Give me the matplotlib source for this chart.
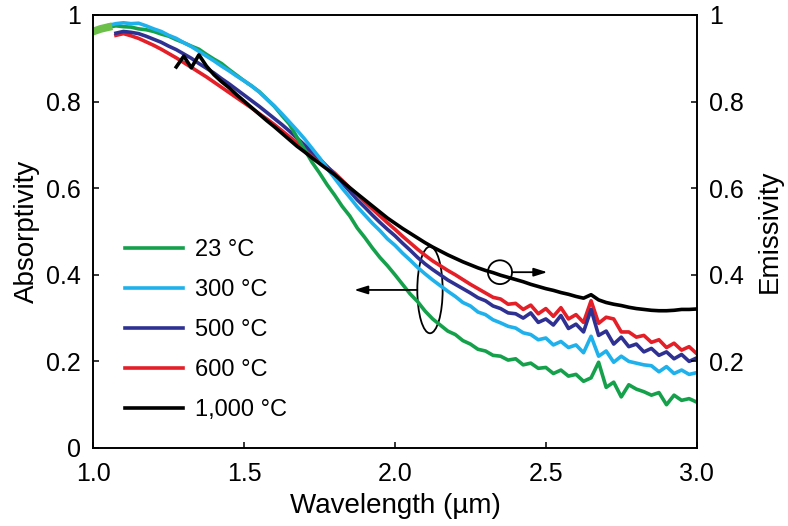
import numpy as np
import matplotlib
matplotlib.use("Agg")
import matplotlib.pyplot as plt
from matplotlib.patches import Ellipse

plt.rcParams['font.family'] = ['Liberation Sans', 'DejaVu Sans']

# ---------------- data ----------------
step = 0.025
start_23, start_300, start_500, start_600, start_1000 = 1.0, 1.05, 1.075, 1.075, 1.275

abs_23 = [0.962, 0.968, 0.972, 0.975, 0.973, 0.972, 0.968, 0.966, 0.962, 0.956,
          0.951, 0.943, 0.936, 0.928, 0.921, 0.909, 0.898, 0.888, 0.874, 0.861,
          0.848, 0.836, 0.823, 0.806, 0.789, 0.768, 0.748, 0.718, 0.690, 0.660,
          0.635, 0.608, 0.584, 0.558, 0.536, 0.508, 0.486, 0.462, 0.440, 0.421,
          0.400, 0.378, 0.356, 0.338, 0.316, 0.298, 0.284, 0.270, 0.262, 0.248,
          0.240, 0.228, 0.224, 0.214, 0.212, 0.203, 0.206, 0.192, 0.196, 0.184,
          0.186, 0.172, 0.180, 0.166, 0.170, 0.154, 0.162, 0.198, 0.140, 0.152,
          0.118, 0.146, 0.136, 0.130, 0.122, 0.128, 0.100, 0.122, 0.110, 0.114,
          0.106]

abs_300 = [0.976, 0.980, 0.982, 0.980, 0.981, 0.975, 0.968, 0.962, 0.953, 0.946,
           0.936, 0.927, 0.916, 0.905, 0.894, 0.882, 0.871, 0.859, 0.848, 0.836,
           0.822, 0.806, 0.790, 0.772, 0.753, 0.734, 0.714, 0.692, 0.670, 0.646,
           0.623, 0.600, 0.579, 0.557, 0.538, 0.519, 0.502, 0.483, 0.468, 0.450,
           0.434, 0.417, 0.402, 0.388, 0.375, 0.362, 0.350, 0.336, 0.328, 0.314,
           0.308, 0.296, 0.289, 0.281, 0.277, 0.266, 0.262, 0.250, 0.254, 0.238,
           0.246, 0.232, 0.238, 0.220, 0.258, 0.212, 0.224, 0.198, 0.212, 0.200,
           0.196, 0.192, 0.190, 0.176, 0.188, 0.172, 0.180, 0.170, 0.174]

abs_500 = [0.958, 0.962, 0.960, 0.957, 0.951, 0.944, 0.937, 0.928, 0.920, 0.910,
           0.900, 0.888, 0.877, 0.866, 0.853, 0.841, 0.828, 0.815, 0.802, 0.789,
           0.775, 0.761, 0.747, 0.732, 0.716, 0.700, 0.684, 0.668, 0.650, 0.632,
           0.612, 0.593, 0.573, 0.556, 0.538, 0.521, 0.505, 0.490, 0.473, 0.457,
           0.440, 0.425, 0.412, 0.400, 0.388, 0.378, 0.368, 0.358, 0.347, 0.340,
           0.328, 0.322, 0.312, 0.310, 0.300, 0.312, 0.290, 0.298, 0.284, 0.306,
           0.276, 0.286, 0.268, 0.320, 0.260, 0.270, 0.240, 0.256, 0.234, 0.240,
           0.222, 0.230, 0.214, 0.222, 0.206, 0.216, 0.200, 0.208]

abs_600 = [0.953, 0.957, 0.952, 0.946, 0.938, 0.930, 0.921, 0.911, 0.901, 0.890,
           0.879, 0.868, 0.857, 0.845, 0.833, 0.821, 0.809, 0.797, 0.785, 0.772,
           0.760, 0.747, 0.733, 0.719, 0.705, 0.690, 0.676, 0.662, 0.649, 0.635,
           0.618, 0.601, 0.585, 0.568, 0.552, 0.536, 0.520, 0.505, 0.489, 0.474,
           0.459, 0.445, 0.432, 0.421, 0.410, 0.400, 0.389, 0.378, 0.368, 0.358,
           0.348, 0.344, 0.332, 0.334, 0.320, 0.330, 0.310, 0.322, 0.304, 0.324,
           0.298, 0.308, 0.290, 0.340, 0.288, 0.302, 0.298, 0.268, 0.268, 0.256,
           0.260, 0.244, 0.250, 0.232, 0.242, 0.226, 0.234, 0.218]

emis_1000 = [0.880, 0.905, 0.878, 0.908, 0.882, 0.862, 0.846, 0.832, 0.816, 0.801,
             0.786, 0.771, 0.756, 0.742, 0.727, 0.712, 0.697, 0.684, 0.670, 0.657,
             0.644, 0.631, 0.616, 0.601, 0.587, 0.573, 0.559, 0.545, 0.531, 0.519,
             0.507, 0.496, 0.485, 0.474, 0.464, 0.455, 0.446, 0.438, 0.430, 0.423,
             0.416, 0.410, 0.405, 0.399, 0.394, 0.389, 0.384, 0.378, 0.373, 0.368,
             0.364, 0.359, 0.355, 0.350, 0.346, 0.354, 0.342, 0.336, 0.332, 0.329,
             0.325, 0.322, 0.320, 0.318, 0.317, 0.317, 0.318, 0.320, 0.320, 0.321]

labels = ['23 °C', '300 °C', '500 °C', '600 °C', '1,000 °C']
colors = ['#15a14b', '#1fb1ec', '#2e3192', '#e41f27', '#000000']

x_ticks = [1.0, 1.5, 2.0, 2.5, 3.0]
x_ticklabels = ['1.0', '1.5', '2.0', '2.5', '3.0']
y_ticks = [0, 0.2, 0.4, 0.6, 0.8, 1.0]
y_ticklabels = ['0', '0.2', '0.4', '0.6', '0.8', '1']
y2_ticks = [0.2, 0.4, 0.6, 0.8, 1.0]
y2_ticklabels = ['0.2', '0.4', '0.6', '0.8', '1']


def wl(start, vals):
    return start + step * np.arange(len(vals))

# ---------------- figure ----------------
fig = plt.figure(figsize=(7.88, 5.26), dpi=100)
ax = fig.add_axes([0.1184, 0.1483, 0.7657, 0.8232])

lw = 2.6
series = {
    '23': (wl(start_23, abs_23), abs_23),
    '300': (wl(start_300, abs_300), abs_300),
    '500': (wl(start_500, abs_500), abs_500),
    '600': (wl(start_600, abs_600), abs_600),
    '1000': (wl(start_1000, emis_1000), emis_1000),
}
h600, = ax.plot(*series['600'], color=colors[3], lw=lw, label=labels[3])
h500, = ax.plot(*series['500'], color=colors[2], lw=lw, label=labels[2])
h23, = ax.plot(*series['23'], color=colors[0], lw=lw, label=labels[0])
h300, = ax.plot(*series['300'], color=colors[1], lw=lw, label=labels[1])
ax.plot(series['23'][0][:3], abs_23[:3], color='#6cc04a', lw=lw + 3)
h1000, = ax.plot(*series['1000'], color=colors[4], lw=lw, label=labels[4])

ax.set_xlim(1.0, 3.0)
ax.set_ylim(0, 1.0)
ax.set_xticks(x_ticks)
ax.set_xticklabels(x_ticklabels)
ax.set_yticks(y_ticks)
ax.set_yticklabels(y_ticklabels)
ax.tick_params(direction='in', length=4, width=1.1, labelsize=18, pad=9)
ax.tick_params(axis='x', pad=10)
for s in ax.spines.values():
    s.set_linewidth(1.2)
ax.set_xlabel('Wavelength (µm)', fontsize=20, labelpad=5)
ax.set_ylabel('Absorptivity', fontsize=20, labelpad=4)

ax2 = ax.twinx()
ax2.set_ylim(0, 1.0)
ax2.set_yticks(y2_ticks)
ax2.set_yticklabels(y2_ticklabels)
ax2.tick_params(direction='in', length=4, width=1.1, labelsize=18, pad=9)
ax2.set_ylabel('Emissivity', fontsize=20, labelpad=9)
for s in ax2.spines.values():
    s.set_linewidth(1.2)

# annotations
ax.add_patch(Ellipse((2.116, 0.365), 0.084, 0.20, fill=False, lw=1.3, color='k'))
ax.annotate('', xy=(1.865, 0.365), xytext=(2.074, 0.365),
            arrowprops=dict(arrowstyle='-|>,head_length=0.8,head_width=0.25',
                            lw=1.3, color='k', shrinkA=0, shrinkB=0))
ax.add_patch(Ellipse((2.348, 0.406), 0.08, 0.055, fill=False, lw=1.3, color='k'))
ax.annotate('', xy=(2.505, 0.406), xytext=(2.388, 0.406),
            arrowprops=dict(arrowstyle='-|>,head_length=0.8,head_width=0.25',
                            lw=1.3, color='k', shrinkA=0, shrinkB=0))

leg = ax.legend(handles=[h23, h300, h500, h600, h1000], loc='upper left',
                bbox_to_anchor=(0.053, 0.482), frameon=False, fontsize=17,
                handlelength=2.45, handletextpad=0.5, labelspacing=0.76,
                borderpad=0, borderaxespad=0)
for line in leg.get_lines():
    line.set_linewidth(2.6)

fig.savefig('out.png', dpi=100)
